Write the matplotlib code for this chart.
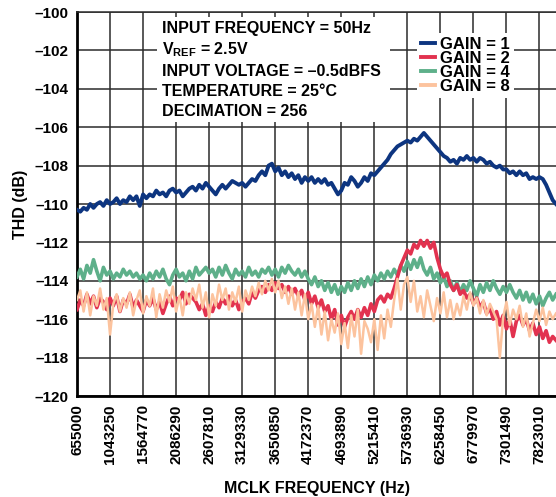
import matplotlib
matplotlib.use("Agg")
import matplotlib.pyplot as plt
import numpy as np
from matplotlib.patches import Rectangle

plt.rcParams['font.family'] = ['Liberation Sans', 'DejaVu Sans']
plt.rcParams['font.weight'] = 'bold'
plt.rcParams['mathtext.fontset'] = 'custom'
plt.rcParams['mathtext.rm'] = 'Liberation Sans:bold'
plt.rcParams['mathtext.bf'] = 'Liberation Sans:bold'

tick_labels = ["655000", "1043250", "1564770", "2086290", "2607810", "3129330",
               "3650850", "4172370", "4693890", "5215410", "5736930", "6258450",
               "6779970", "7301490", "7823010"]

# sample position in tick units (one sample every 0.1 tick interval)
sample_pos = [i / 10 for i in range(146)]

gain1 = [-110.3, -110.4, -110.2, -110.3, -110.0, -110.2, -110.0, -109.9, -110.1, -109.8,
         -110.0, -109.9, -109.7, -110.0, -109.8, -109.9, -109.6, -109.8, -109.6, -110.1,
         -109.5, -109.7, -109.5, -109.6, -109.3, -109.5, -109.4, -109.6, -109.3, -109.2,
         -109.4, -109.3, -109.6, -109.4, -109.2, -109.1, -109.3, -109.0, -109.2, -108.9,
         -109.1, -109.3, -109.5, -109.2, -109.0, -109.2, -109.0, -108.8, -108.9, -109.0,
         -108.9, -109.1, -108.9, -108.7, -108.8, -108.5, -108.3, -108.5, -108.0, -107.9,
         -108.3, -108.1, -108.5, -108.3, -108.6, -108.4, -108.7, -108.5, -108.9, -108.6,
         -108.8, -108.6, -108.9, -108.7, -108.9, -108.7, -109.0, -108.9, -109.2, -109.5,
         -109.3, -108.9, -109.0, -108.6, -108.8, -109.1, -108.9, -108.6, -108.8, -108.4,
         -108.5, -108.3, -108.1, -107.9, -107.7, -107.4, -107.2, -107.0, -106.9, -106.8,
         -106.7, -106.8, -106.6, -106.7, -106.5, -106.3, -106.5, -106.7, -106.9, -107.1,
         -107.3, -107.5, -107.6, -107.8, -107.7, -107.9, -107.6, -107.7, -107.5, -107.7,
         -107.6, -107.8, -107.6, -107.7, -107.9, -107.8, -108.0, -108.1, -108.0, -108.2,
         -108.2, -108.4, -108.3, -108.5, -108.3, -108.5, -108.4, -108.7, -108.6, -108.7,
         -108.6, -108.7, -109.0, -109.4, -109.8, -110.0]

gain2 = [-115.5, -115.0, -115.3, -114.7, -115.2, -114.8, -115.4, -114.9, -115.1, -115.5,
         -114.9, -115.3, -114.8, -115.6, -115.0, -115.2, -114.7, -115.4, -115.0, -115.3,
         -115.6, -115.0, -115.3, -114.9, -115.5, -115.1, -115.7, -115.2, -114.8, -115.3,
         -114.9, -115.0, -114.6, -115.2, -114.7, -114.9, -115.1, -115.5, -115.2, -115.8,
         -115.3, -115.6, -115.1, -115.4, -114.9, -115.2, -114.8, -115.3, -115.0, -115.5,
         -115.1, -114.9, -115.2, -114.6, -114.9, -114.5, -114.3, -114.6, -114.2, -114.5,
         -114.1, -114.4, -114.2, -114.6, -114.3, -114.7, -114.4, -114.8, -114.5, -115.0,
         -114.6, -115.2, -114.8, -115.4, -115.0, -115.6, -115.3, -116.0, -115.5, -116.3,
         -115.8, -116.4, -115.9, -115.6, -116.0, -115.5, -115.9, -115.4, -115.8, -115.2,
         -115.6, -115.0, -114.8, -115.1, -114.7, -114.9, -114.4, -113.8, -113.2, -112.8,
         -112.4, -112.6, -112.1, -112.3, -111.9, -112.2, -111.9, -112.3, -112.0, -112.8,
         -113.4, -113.8, -113.6, -114.2, -114.5, -114.2, -114.7, -114.5, -114.9, -114.7,
         -115.2, -114.9, -115.4, -115.1, -115.7, -115.4, -116.0, -115.6, -116.3, -115.8,
         -116.5, -116.0, -116.9, -116.1, -115.8, -116.3, -116.0, -116.6, -116.2, -116.8,
         -116.4, -117.0, -116.6, -117.2, -116.9, -117.1]

gain4 = [-113.8, -113.4, -113.9, -113.2, -113.6, -112.9, -113.5, -114.0, -113.3, -113.7,
         -113.5, -113.9, -113.6, -113.8, -113.4, -113.7, -113.5, -113.8, -113.6, -113.9,
         -113.7, -114.0, -113.6, -113.9, -113.5, -113.8, -113.4, -113.9, -114.2, -113.7,
         -113.4, -113.8, -113.6, -114.0, -113.5, -113.9, -113.3, -113.7, -113.5, -113.3,
         -113.6, -113.4, -113.8, -113.3, -113.7, -113.2, -113.6, -113.9, -113.4, -113.7,
         -113.5, -113.8, -113.3, -113.7, -113.5, -113.8, -113.4, -113.6, -113.3, -113.7,
         -113.4, -113.8, -113.3, -113.6, -113.2, -113.5, -113.7, -113.4, -113.8, -113.5,
         -113.9, -114.2, -113.8, -114.3, -114.0, -114.5, -114.1, -114.6, -114.2, -114.7,
         -114.3, -114.6, -114.1, -114.5, -114.0, -114.4, -113.9, -114.3, -113.8, -114.2,
         -113.7, -114.0, -113.6, -113.9, -113.5, -113.8, -113.4, -113.7, -113.2, -113.5,
         -113.0, -113.4, -112.9, -113.3, -112.8, -113.4, -113.7, -113.3, -113.9, -113.6,
         -114.1, -113.8, -114.3, -114.0, -114.5, -114.1, -114.6, -114.2, -114.5, -114.0,
         -114.4, -114.8, -114.2, -114.6, -114.1, -114.5, -114.0, -114.4, -114.7, -114.3,
         -114.6, -114.2, -114.6, -114.9, -114.5, -115.0, -114.6, -115.1, -114.7, -115.2,
         -114.8, -115.3, -114.9, -114.6, -115.0, -114.7]

gain8 = [-115.0, -114.5, -115.6, -114.6, -115.8, -114.8, -115.3, -114.4, -115.5, -114.9,
         -116.8, -115.2, -114.7, -115.6, -114.9, -115.4, -114.6, -115.8, -115.0, -114.5,
         -115.7, -114.8, -115.3, -114.4, -115.9, -114.7, -115.4, -114.5, -115.1, -114.3,
         -115.6, -114.8, -115.8, -114.6, -115.2, -114.4, -115.0, -114.2, -115.4, -114.6,
         -115.9, -114.7, -115.3, -114.2, -115.0, -114.4, -115.5, -114.6, -115.1, -114.3,
         -115.6, -114.5, -115.0, -114.3, -114.8, -114.1, -114.7, -114.0, -114.5, -113.9,
         -114.6, -114.0, -114.9, -114.3, -115.2, -114.4, -115.5, -114.6, -115.8, -114.7,
         -116.0, -115.2, -116.4, -115.3, -116.8, -115.6, -117.1, -116.0, -116.7, -115.7,
         -117.3, -116.2, -117.5, -115.8, -116.9, -115.5, -117.8, -116.1, -116.5, -117.2,
         -116.0, -117.6, -115.8, -117.0, -115.5, -116.4, -115.0, -113.9, -115.5, -114.2,
         -113.8, -115.1, -114.0, -115.6, -114.8, -115.9, -114.5, -115.3, -116.1, -114.9,
         -115.7, -114.6, -115.9, -115.0, -116.0, -115.2, -115.8, -114.8, -115.5, -114.6,
         -115.3, -114.9, -115.7, -115.0, -115.8, -115.2, -115.6, -116.0, -118.0, -115.9,
         -115.1, -116.3, -115.5, -116.0, -115.3, -116.4, -115.7, -116.9, -116.2, -115.5,
         -116.1, -115.4, -116.3, -115.6, -116.0, -115.7]

c_blue = "#0d3580"
c_red = "#e2324f"
c_green = "#5eb08a"
c_orange = "#fcc39e"

fig = plt.figure(figsize=(5.56, 4.97), dpi=100)
ax = fig.add_axes([77 / 556, 101 / 497, 479 / 556, 384 / 497])

ax.plot(sample_pos, gain4, color=c_green, lw=2.6, zorder=3, label="GAIN = 4")
ax.plot(sample_pos, gain2, color=c_red, lw=2.6, zorder=4, label="GAIN = 2")
ax.plot(sample_pos, gain8, color=c_orange, lw=1.8, zorder=5, label="GAIN = 8")
ax.plot(sample_pos, gain1, color=c_blue, lw=2.8, zorder=6, label="GAIN = 1")

ax.set_xlim(0, 14.5)
ax.set_ylim(-120, -100)
ax.set_xticks(range(len(tick_labels)))
ax.set_xticklabels(tick_labels, rotation=90, fontsize=11, fontweight='bold')
yt = list(range(-120, -99, 2))
ax.set_yticks(yt)
ax.set_yticklabels([f"\u2013{abs(v)}" for v in yt], fontsize=11, fontweight='bold')
ax.tick_params(length=0, pad=6)
ax.grid(True, color="#2b2b2b", lw=1.1, zorder=1)
ax.set_axisbelow(True)
for s in ['left', 'bottom']:
    ax.spines[s].set_linewidth(2.0)
    ax.spines[s].set_color('black')
ax.spines['top'].set_linewidth(1.1)
ax.spines['top'].set_color('#2b2b2b')
ax.spines['right'].set_visible(False)

ax.set_xlabel("MCLK FREQUENCY (Hz)", fontsize=11.5, fontweight='bold', labelpad=12)
ax.set_ylabel("THD (dB)", fontsize=11.5, fontweight='bold', labelpad=5)

def px2ax(x, y):
    return ((x - 77) / 479, (396 - y) / 384)

# white box behind annotation text
x0, y0 = px2ax(157, 122)
x1, y1 = px2ax(390, 17)
ax.add_patch(Rectangle((x0, y0), x1 - x0, y1 - y0, transform=ax.transAxes,
                       facecolor='white', edgecolor='none', zorder=2))

lines = [("INPUT FREQUENCY = 50Hz", 29),
         (r"V$_{\mathrm{REF}}$ = 2.5V", 50),
         ("INPUT VOLTAGE = \u20130.5dBFS", 72),
         ("TEMPERATURE = 25\u00b0C", 91),
         ("DECIMATION = 256", 111)]
for txt, yy in lines:
    xa, ya = px2ax(162, yy)
    ax.text(xa, ya, txt, transform=ax.transAxes, fontsize=11.5, fontweight='bold',
            ha='left', va='center', zorder=7)

handles, labels = ax.get_legend_handles_labels()
order = [3, 1, 0, 2]
lx, ly = px2ax(417, 33)
leg = ax.legend([handles[i] for i in order], [labels[i] for i in order],
                loc='upper left', bbox_to_anchor=(lx, ly), frameon=True,
                prop={'weight': 'bold', 'size': 12},
                handlelength=0.85, handletextpad=0.3, labelspacing=-0.06,
                borderpad=0.25, borderaxespad=0, fancybox=False)
leg.get_frame().set_edgecolor('none')
leg.get_frame().set_facecolor('white')
leg.get_frame().set_alpha(1)
leg.set_zorder(8)
for h in leg.get_lines():
    h.set_linewidth(2.8)

fig.savefig("out.png", dpi=100)
